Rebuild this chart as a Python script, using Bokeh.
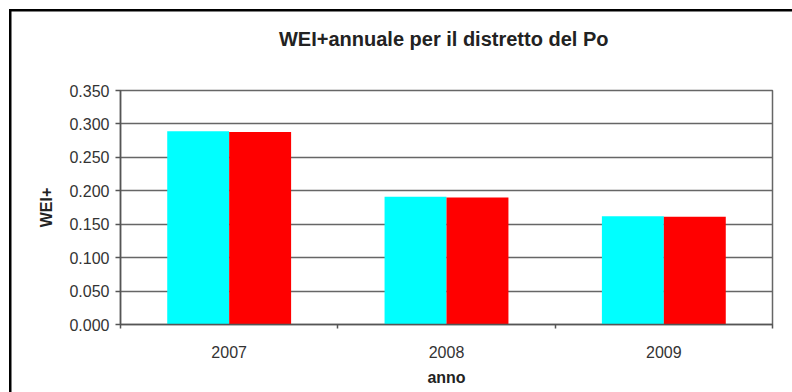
from bokeh.plotting import figure
from bokeh.models import ColumnDataSource, FixedTicker, Range1d, LinearAxis
from bokeh.embed import file_html
from bokeh.resources import INLINE

# Annual WEI+ for the Po river district
years = ["2007", "2008", "2009"]
wei_cyan = [0.289, 0.191, 0.162]
wei_red = [0.288, 0.190, 0.161]
y_ticks = [0.0, 0.05, 0.10, 0.15, 0.20, 0.25, 0.30, 0.35]
y_tick_labels = ["0.000", "0.050", "0.100", "0.150", "0.200", "0.250", "0.300", "0.350"]
title_text = "WEI+annuale  per il distretto del Po"

FONT = "Liberation Sans"
BAR_W = 0.285
W, H = 792, 392
LEFT, RIGHT, TOP, BOTTOM = 120, 20, 90, 68
FRAME_W = W - LEFT - RIGHT

centers = [i + 0.5 for i in range(len(years))]
src = ColumnDataSource(dict(
    x_cyan=[c - BAR_W / 2 for c in centers],
    x_red=[c + BAR_W / 2 for c in centers],
    cyan=wei_cyan,
    red=wei_red,
))

p = figure(width=W, height=H, output_backend="svg", toolbar_location=None,
           x_range=Range1d(0, len(years)), y_range=Range1d(0, 0.35),
           min_border_left=LEFT, min_border_right=RIGHT,
           min_border_top=TOP, min_border_bottom=BOTTOM,
           x_axis_label="anno", y_axis_label="WEI+")
p.background_fill_color = "white"
# transparent border area so the page background (with the chart's outer
# frame lines, top and left) shows through
p.border_fill_color = "white"
p.border_fill_alpha = 0
p.styles = {
    "background": ("linear-gradient(#000, #000) 9px 9px / 2.5px 100% no-repeat, "
                   "linear-gradient(#000, #000) 9px 9px / 100% 2.5px no-repeat, "
                   "#ffffff"),
}
p.outline_line_color = "#666666"
p.outline_line_width = 1.5

p.vbar(x="x_cyan", top="cyan", width=BAR_W, bottom=0, source=src,
       fill_color="#00FFFF", line_color=None)
p.vbar(x="x_red", top="red", width=BAR_W, bottom=0, source=src,
       fill_color="#FF0000", line_color=None)

# chart title: a bare axis above the frame whose label is the title,
# its bounds chosen so the text sits a little left of the frame centre
title_center_px = 295
title_bounds_end = 2 * title_center_px / FRAME_W * len(years)
title_axis = LinearAxis(ticker=FixedTicker(ticks=[]), bounds=(0, title_bounds_end),
                        axis_label=title_text)
title_axis.axis_line_color = None
title_axis.major_tick_line_color = None
title_axis.minor_tick_line_color = None
title_axis.major_tick_out = 0
title_axis.major_tick_in = 0
title_axis.minor_tick_out = 0
title_axis.minor_tick_in = 0
title_axis.major_label_text_font_size = "0px"
title_axis.axis_label_standoff = 41
title_axis.axis_label_text_font = FONT
title_axis.axis_label_text_font_style = "bold"
title_axis.axis_label_text_font_size = "20px"
title_axis.axis_label_text_color = "#222222"
p.add_layout(title_axis, "above")

# y axis
p.yaxis.ticker = FixedTicker(ticks=y_ticks)
p.yaxis.major_label_overrides = {t: s for t, s in zip(y_ticks, y_tick_labels)}
p.yaxis.minor_tick_line_color = None
p.yaxis.major_tick_in = 0
p.yaxis.major_tick_out = 5
p.yaxis.major_label_standoff = 6
p.yaxis.axis_line_color = "#555555"
p.yaxis.axis_line_width = 1.5
p.yaxis.major_tick_line_color = "#555555"
p.yaxis.major_tick_line_width = 1.5
p.yaxis.major_label_text_font = FONT
p.yaxis.major_label_text_font_size = "16px"
p.yaxis.major_label_text_color = "#333333"
p.yaxis.axis_label_standoff = 11
p.yaxis.axis_label_text_font = FONT
p.yaxis.axis_label_text_font_style = "bold"
p.yaxis.axis_label_text_font_size = "16px"
p.yaxis.axis_label_text_color = "#222222"

# x axis: labels at category centres, tick marks at category boundaries
xaxis = p.below[0]
xaxis.ticker = FixedTicker(ticks=centers, minor_ticks=list(range(len(years) + 1)))
xaxis.major_label_overrides = {c: y for c, y in zip(centers, years)}
xaxis.major_tick_line_color = None
xaxis.major_tick_in = 0
xaxis.major_tick_out = 0
xaxis.minor_tick_in = 0
xaxis.minor_tick_out = 4
xaxis.minor_tick_line_color = "#555555"
xaxis.minor_tick_line_width = 1.5
xaxis.major_label_standoff = 17
xaxis.axis_line_color = "#555555"
xaxis.axis_line_width = 1.5
xaxis.major_label_text_font = FONT
xaxis.major_label_text_font_size = "16px"
xaxis.major_label_text_color = "#333333"
xaxis.axis_label_standoff = 8
xaxis.axis_label_text_font = FONT
xaxis.axis_label_text_font_style = "bold"
xaxis.axis_label_text_font_size = "16px"
xaxis.axis_label_text_color = "#222222"

p.xgrid.grid_line_color = None
p.ygrid.ticker = FixedTicker(ticks=y_ticks)
p.ygrid.grid_line_color = "#666666"
p.ygrid.grid_line_width = 1.5

open("out.html", "w").write(file_html(p, INLINE))
